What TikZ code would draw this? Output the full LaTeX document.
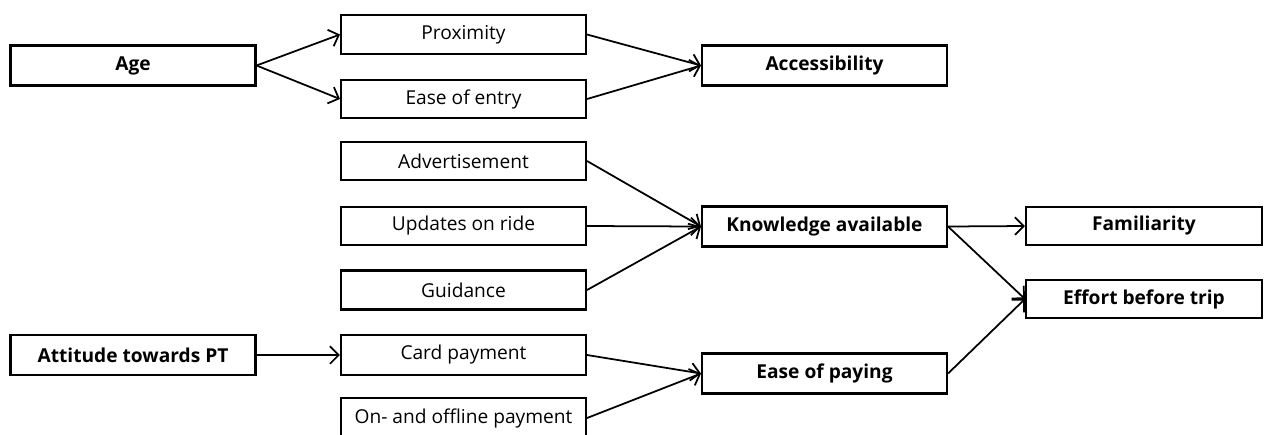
\documentclass[tikz,border=0pt]{standalone}
\usepackage{fontspec}
\setmainfont{Open Sans}
\usetikzlibrary{arrows.meta}
\begin{document}
\begin{tikzpicture}[x=0.02cm,y=-0.02cm,
  box/.style={draw,line width=1.2pt,inner sep=0pt,minimum width=4.9cm,minimum height=0.8cm,font=\fontsize{10.9}{12}\selectfont},
  bbox/.style={box,font=\fontsize{10.9}{12}\selectfont\bfseries},
  conn/.style={line width=1pt,-{Straight Barb[length=5pt,width=10pt,line width=1pt]}}]
\useasboundingbox (0,0) rectangle (1271,434);
\clip (0,0) rectangle (1271,434);
\node[bbox] (age) at (133,65.5) {Age};
\node[box,minimum height=0.78cm] (prox) at (463.5,34.5) {Proximity};
\node[box,minimum height=0.76cm] (entry) at (463.5,99) {Ease of entry};
\node[bbox] (access) at (824.5,65.5) {Accessibility};
\node[box,minimum height=0.76cm] (adv) at (463.5,161) {Advertisement};
\node[box,minimum height=0.76cm] (upd) at (463.5,226) {Updates on ride};
\node[box,minimum height=0.78cm] (guid) at (463.5,290) {Guidance};
\node[bbox] (know) at (824.5,226.5) {Knowledge available};
\node[bbox,minimum width=4.72cm,minimum height=0.76cm] (fam) at (1144,226) {Familiarity};
\node[bbox,minimum width=4.72cm,minimum height=0.76cm] (effort) at (1144,299) {Effort before trip};
\node[bbox] (att) at (133,355) {Attitude towards PT};
\node[box] (card) at (463.5,355) {Card payment};
\node[box] (online) at (463.5,418) {On- and offline payment};
\node[bbox] (pay) at (824.5,373.5) {Ease of paying};
\draw[conn] (age.east) -- (prox.west);
\draw[conn] (age.east) -- (entry.west);
\draw[conn] (prox.east) -- (access.west);
\draw[conn] (entry.east) -- (access.west);
\draw[conn] (adv.east) -- (know.west);
\draw[conn] (upd.east) -- (know.west);
\draw[conn] (guid.east) -- (know.west);
\draw[conn] (know.east) -- (fam.west);
\draw[conn] (know.east) -- (effort.west);
\draw[conn] (att.east) -- (card.west);
\draw[conn] (card.east) -- (pay.west);
\draw[conn] (online.east) -- (pay.west);
\draw[conn] (pay.east) -- (effort.west);
\end{tikzpicture}
\end{document}
